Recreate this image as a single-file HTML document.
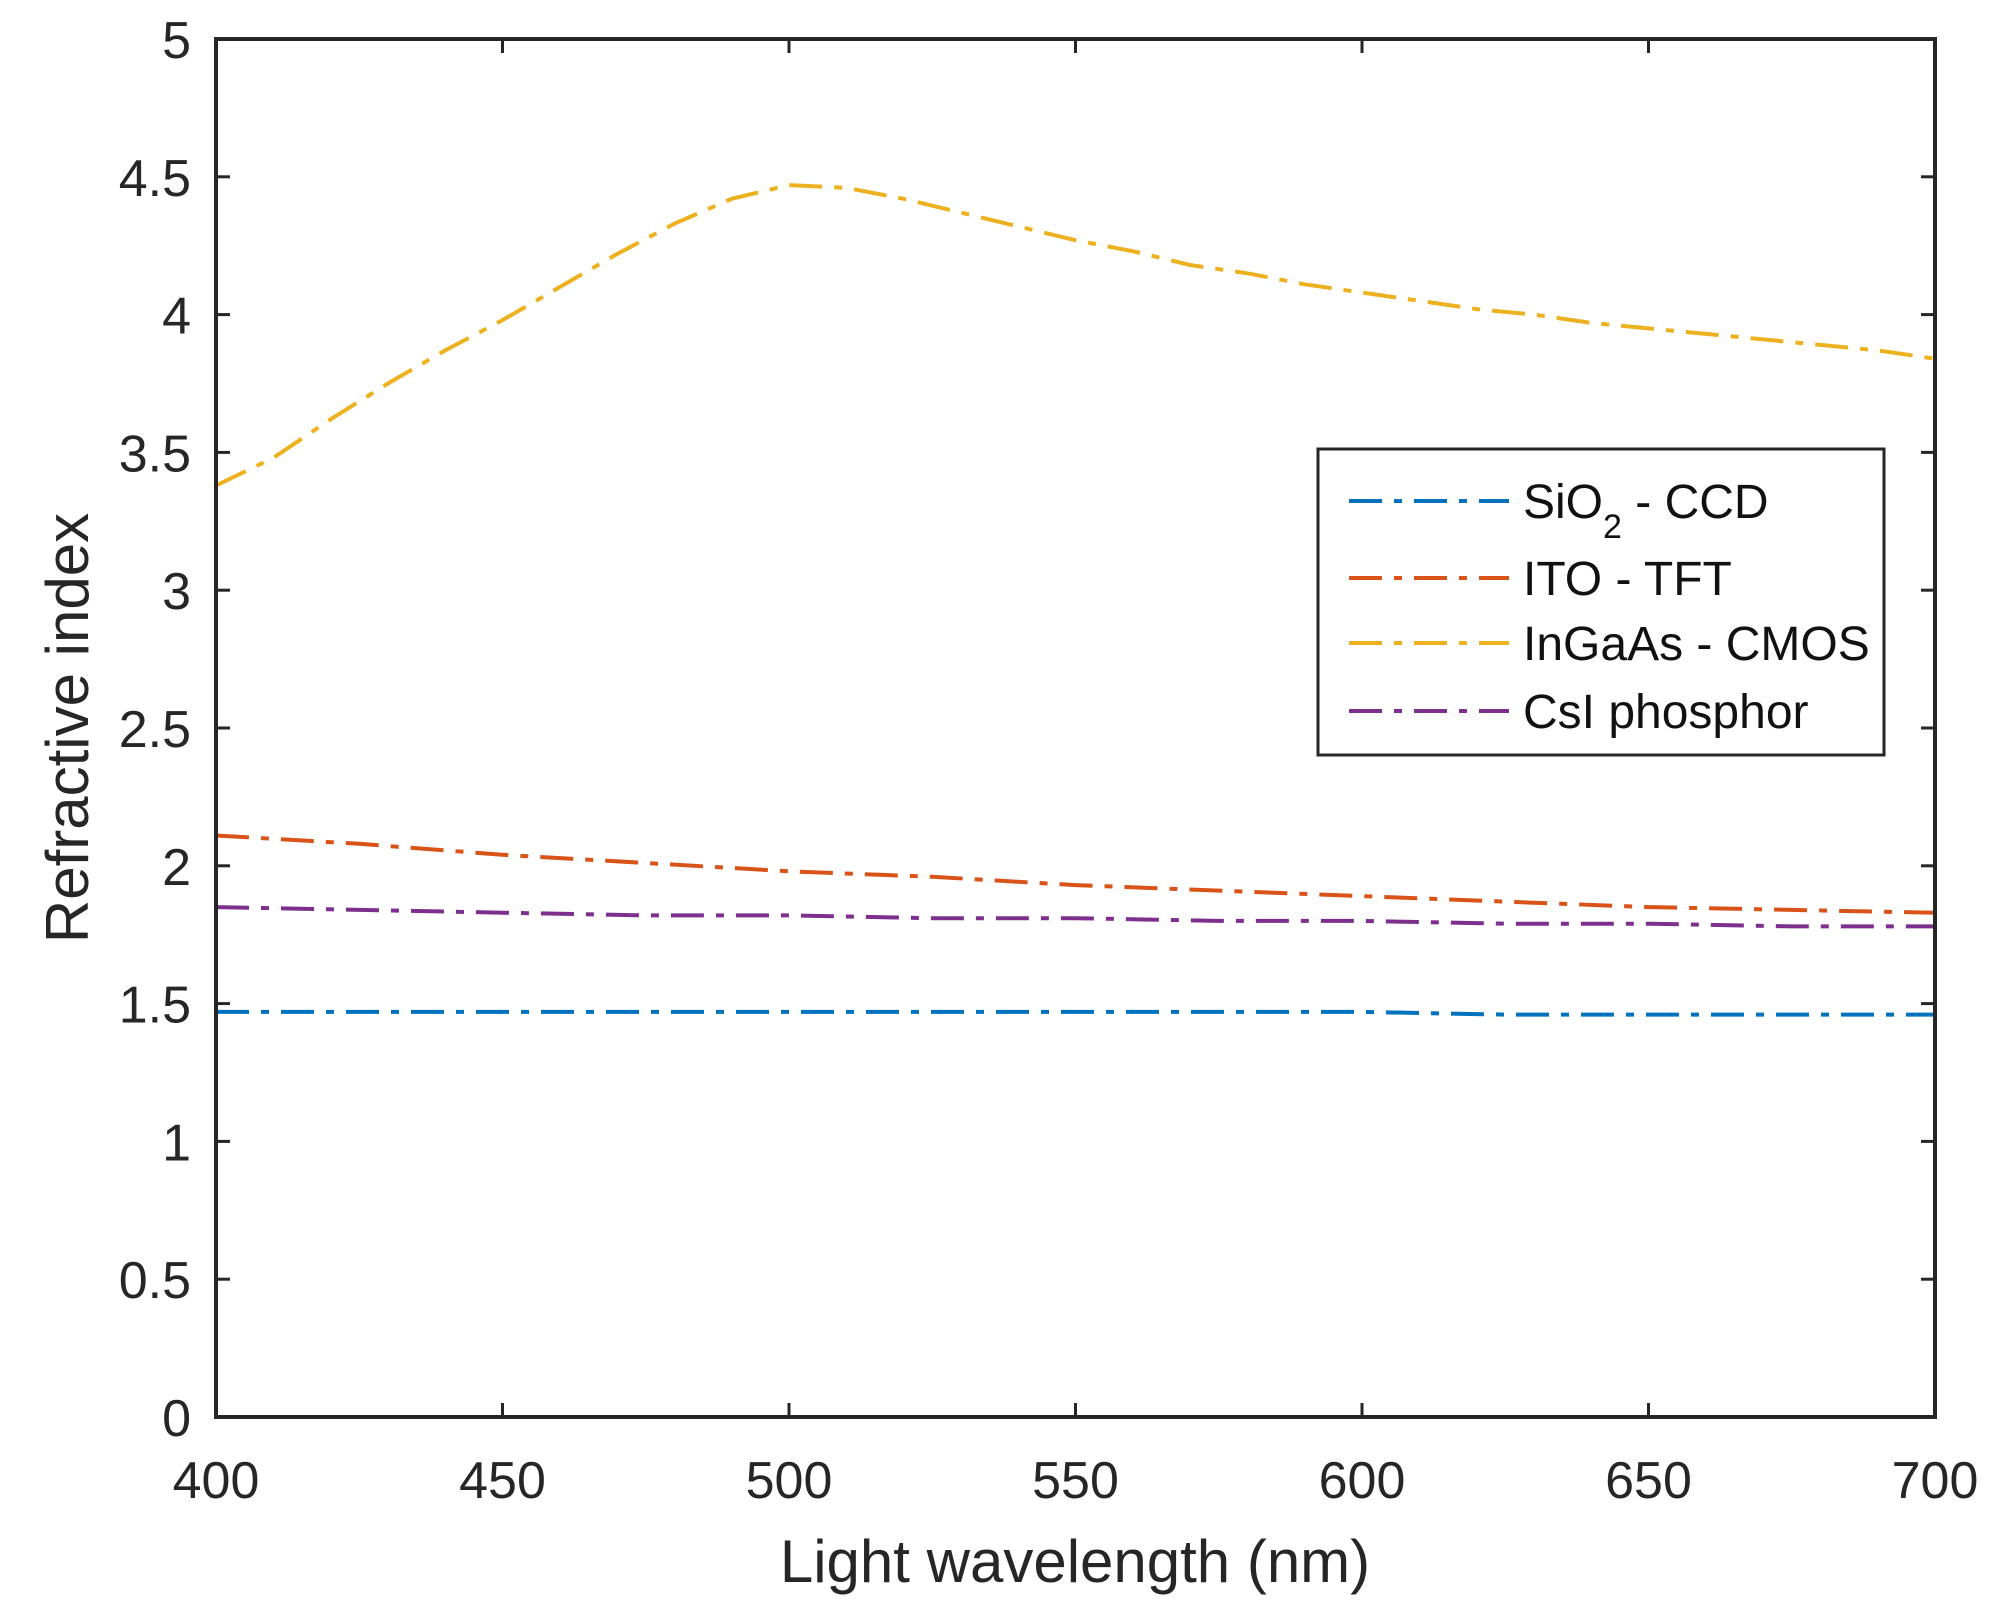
<!DOCTYPE html>
<html><head><meta charset="utf-8"><style>
html,body{margin:0;padding:0;background:#fff;}
svg{display:block;font-family:"Liberation Sans",Arial,sans-serif;}
</style></head><body>
<svg id="chart" width="2007" height="1618" viewBox="0 0 2007 1618"></svg>
<script>
const wavelengths=[400,425,450,475,500,525,550,575,600,625,650,675,700];
const ingaasX=[400,410,420,430,440,450,460,470,480,490,500,510,520,530,540,550,560,570,580,590,600,610,620,630,640,650,660,670,680,690,700];
const ingaasY=[3.38,3.48,3.62,3.75,3.87,3.98,4.10,4.22,4.33,4.42,4.47,4.46,4.42,4.37,4.32,4.27,4.23,4.18,4.15,4.11,4.08,4.05,4.02,4.00,3.97,3.95,3.93,3.91,3.89,3.87,3.84];
const itoY=[2.11,2.08,2.04,2.01,1.98,1.96,1.93,1.91,1.89,1.87,1.85,1.84,1.83];
const csiY=[1.85,1.84,1.83,1.82,1.82,1.81,1.81,1.80,1.80,1.79,1.79,1.78,1.78];
const sio2Y=[1.47,1.47,1.47,1.47,1.47,1.47,1.47,1.47,1.47,1.46,1.46,1.46,1.46];
const xTicks=[400,450,500,550,600,650,700];
const yTicks=[0,0.5,1,1.5,2,2.5,3,3.5,4,4.5,5];
const yTickLabels=["0","0.5","1","1.5","2","2.5","3","3.5","4","4.5","5"];

const L=216,R=1935,T=39,B=1417;
const xs=v=>L+(v-400)/300*(R-L);
const ys=v=>B-v/5*(B-T);
const NS="http://www.w3.org/2000/svg";
const svg=document.getElementById('chart');
function mk(tag,attrs,parent){const e=document.createElementNS(NS,tag);for(const k in attrs)e.setAttribute(k,attrs[k]);(parent||svg).appendChild(e);return e;}

const series=[
 {name:'sio2-ccd-line',x:wavelengths,y:sio2Y,c:'#0072BD'},
 {name:'ito-tft-line',x:wavelengths,y:itoY,c:'#D95319'},
 {name:'ingaas-cmos-line',x:ingaasX,y:ingaasY,c:'#EDB120'},
 {name:'csi-phosphor-line',x:wavelengths,y:csiY,c:'#7E2F8E'}
];
const plot=mk('g',{});


series.forEach(s=>{
 const d=s.x.map((v,i)=>(i?'L':'M')+xs(v).toFixed(1)+' '+ys(s.y[i]).toFixed(1)).join(' ');
 const p=mk('path',{d:d,fill:'none',stroke:s.c,'stroke-width':4,'stroke-dasharray':'33 12 8 12'},plot);
 
 
});

const box=mk('rect',{x:L,y:T,width:R-L,height:B-T,fill:'none',stroke:'#262626','stroke-width':4});



xTicks.forEach(v=>{
 const x=xs(v);
 mk('line',{x1:x,y1:B,x2:x,y2:B-14,stroke:'#262626','stroke-width':3});
 mk('line',{x1:x,y1:T,x2:x,y2:T+14,stroke:'#262626','stroke-width':3});
 const t=mk('text',{x:x,y:1498,'font-size':52,'text-anchor':'middle',fill:'#262626'});
 t.textContent=v;
 
 
});
yTicks.forEach((v,i)=>{
 const y=ys(v);
 mk('line',{x1:L,y1:y,x2:L+14,y2:y,stroke:'#262626','stroke-width':3});
 mk('line',{x1:R,y1:y,x2:R-14,y2:y,stroke:'#262626','stroke-width':3});
 const t=mk('text',{x:191,y:y+19,'font-size':52,'text-anchor':'end',fill:'#262626'});
 t.textContent=yTickLabels[i];
 
 
});

const xt=mk('text',{x:1075,y:1582,'font-size':60,'text-anchor':'middle',fill:'#262626'});
xt.textContent='Light wavelength (nm)';


const yt=mk('text',{x:0,y:0,'font-size':60,'text-anchor':'middle',fill:'#262626',transform:'translate(88,728) rotate(-90)'});
yt.textContent='Refractive index';



const lg=mk('g',{});


mk('rect',{x:1318,y:449,width:566,height:306,fill:'#fff',stroke:'#262626','stroke-width':3},lg);
const rows=[501,578,643,711];
const labels=['SiO','ITO - TFT','InGaAs - CMOS','CsI phosphor'];
series.forEach((s,i)=>{
 const y=rows[i];
 const ln=mk('line',{x1:1349,y1:y,x2:1509,y2:y,stroke:s.c,'stroke-width':4,'stroke-dasharray':'33 12 8 12'},lg);
 
 
 const t=mk('text',{x:1523,y:y+17,'font-size':48,fill:'#111'},lg);
 if(i===0){
  t.textContent='SiO';
  const sub=mk('tspan',{dy:20,'font-size':34},t);sub.textContent='2';
  const rest=mk('tspan',{dy:-20},t);rest.textContent=' - CCD';
 } else t.textContent=labels[i];
 
 
});
</script>
</body></html>
